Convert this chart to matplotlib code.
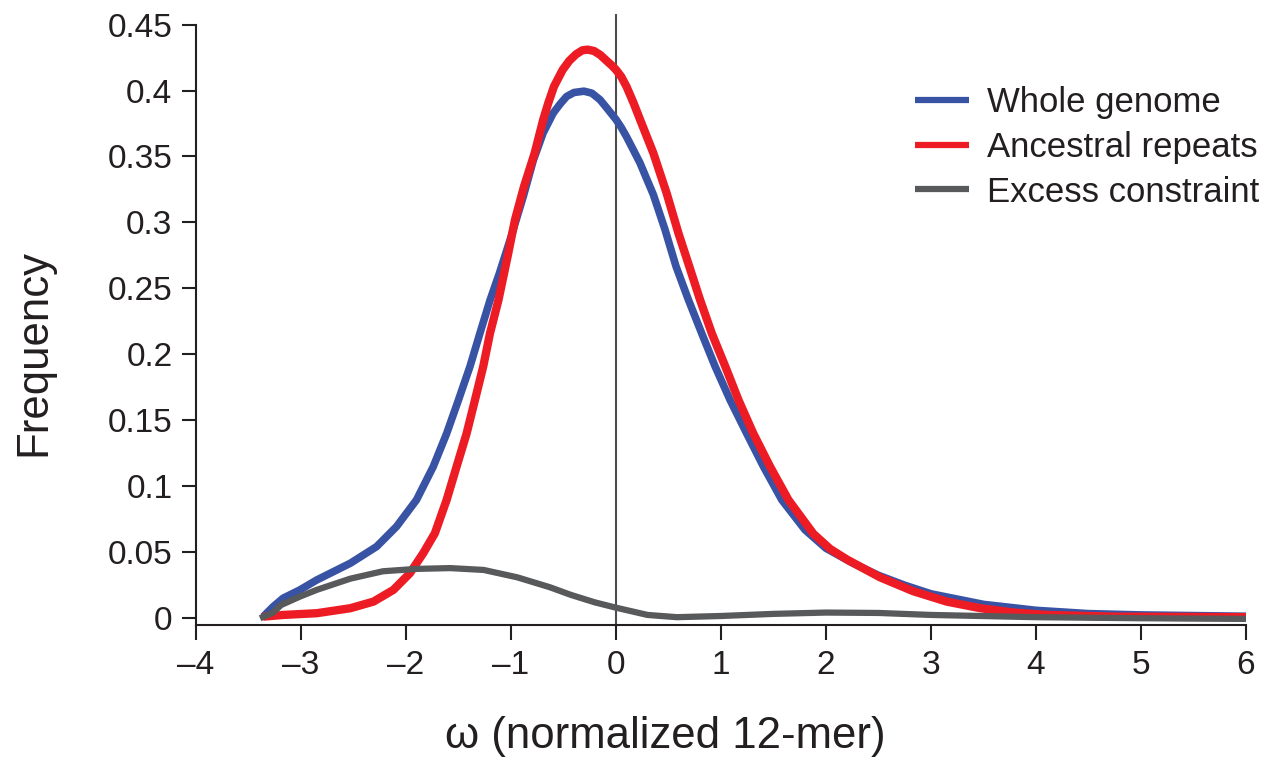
import matplotlib
matplotlib.use("Agg")
import matplotlib.pyplot as plt

plt.rcParams['font.family'] = ['Liberation Sans', 'DejaVu Sans']

# ---- data ----
whole_x = [-3.36, -3.265, -3.17, -3.01, -2.85, -2.53, -2.28, -2.09, -1.90, -1.74, -1.613, -1.50,
           -1.39, -1.296, -1.20, -1.11, -1.00, -0.883, -0.788, -0.693, -0.597, -0.53, -0.47, -0.40,
           -0.305, -0.23, -0.152, -0.08, 0.0, 0.05, 0.10, 0.165, 0.229, 0.356, 0.465, 0.572, 0.689,
           0.816, 0.943, 1.086, 1.245, 1.404, 1.579, 1.80, 2.0, 2.25, 2.5, 2.75, 3.0, 3.5, 4.0,
           4.5, 5.0, 6.0]
whole_y = [0.0012, 0.0088, 0.0152, 0.0215, 0.029, 0.0417, 0.0543, 0.0695, 0.0897, 0.115, 0.140, 0.1655,
           0.191, 0.216, 0.241, 0.2616, 0.289, 0.3197, 0.347, 0.368, 0.383, 0.390, 0.3955, 0.3985,
           0.3995, 0.398, 0.393, 0.386, 0.378, 0.372, 0.365, 0.355, 0.345, 0.321, 0.295, 0.2666, 0.2415,
           0.216, 0.191, 0.1655, 0.140, 0.115, 0.0897, 0.067, 0.053, 0.042, 0.0325, 0.025, 0.0185, 0.0105, 0.006,
           0.0035, 0.0025, 0.0015]

anc_x = [-3.36, -3.17, -2.85, -2.53, -2.31, -2.12, -1.963, -1.836, -1.725, -1.613, -1.518, -1.423,
         -1.343, -1.264, -1.20, -1.12, -1.026, -0.962, -0.877, -0.775, -0.693, -0.645, -0.591,
         -0.508, -0.445, -0.38, -0.32, -0.27, -0.21, -0.15, -0.089, -0.04, 0.0, 0.05, 0.10, 0.165,
         0.229, 0.356, 0.483, 0.594, 0.698, 0.80, 0.912, 1.04, 1.166, 1.308, 1.467, 1.642, 1.88,
         2.04, 2.20, 2.515, 2.83, 3.15, 3.47, 3.79, 4.10, 4.74, 6.0]
anc_y = [0.0012, 0.0025, 0.0038, 0.0076, 0.0126, 0.0215, 0.0341, 0.0493, 0.0644, 0.0897, 0.115, 0.140,
         0.1655, 0.191, 0.216, 0.241, 0.2767, 0.302, 0.327, 0.3525, 0.378, 0.3905, 0.403,
         0.4157, 0.4225, 0.4275, 0.4305, 0.431, 0.430, 0.427, 0.4225, 0.419, 0.4157, 0.4105, 0.403, 0.391,
         0.378, 0.3525, 0.322, 0.292, 0.2666, 0.2415, 0.216, 0.191, 0.1655, 0.140, 0.115, 0.0897, 0.064,
         0.0525, 0.0445, 0.031, 0.0205, 0.0126, 0.0076, 0.0043, 0.0025, 0.0012, 0.0008]

exc_x = [-3.39, -3.27, -3.19, -3.01, -2.85, -2.53, -2.22, -1.90, -1.58, -1.26, -0.94, -0.63, -0.43,
         -0.2, 0.0, 0.3, 0.58, 1.0, 1.5, 2.0, 2.5, 3.0, 4.0, 5.0, 6.0]
exc_y = [0.0, 0.004, 0.010, 0.0164, 0.0215, 0.030, 0.0356, 0.0374, 0.038, 0.0366, 0.031, 0.0235, 0.0177,
         0.012, 0.008, 0.0025, 0.0008, 0.0017, 0.0033, 0.0043, 0.004, 0.0025, 0.0008, 0.0, -0.0005]

series_names = ["Whole genome", "Ancestral repeats", "Excess constraint"]
series_colors = ["#3953A4", "#ED1C24", "#58595B"]

x_ticks = [-4, -3, -2, -1, 0, 1, 2, 3, 4, 5, 6]
x_tick_labels = ["\u20134", "\u20133", "\u20132", "\u20131", "0", "1", "2", "3", "4", "5", "6"]
y_ticks = [0, 0.05, 0.1, 0.15, 0.2, 0.25, 0.3, 0.35, 0.4, 0.45]
y_tick_labels = ["0", "0.05", "0.1", "0.15", "0.2", "0.25", "0.3", "0.35", "0.4", "0.45"]

# ---- figure ----
W, H = 1270, 758
fig = plt.figure(figsize=(W / 100, H / 100), dpi=100)
ax = fig.add_axes([196 / W, (H - 624.7) / H, (1246 - 196) / W, (624.7 - 14) / H])

ax.set_xlim(-4, 6)
ax.set_ylim(-0.0049, 0.458)

axis_col = "#231F20"
ax.axvline(0, color="#4D4D4F", lw=1.5, zorder=1)

ax.plot(whole_x, whole_y, color=series_colors[0], lw=5.5, label=series_names[0],
        solid_capstyle='butt', solid_joinstyle='round', zorder=3)
ax.plot(anc_x, anc_y, color=series_colors[1], lw=6.0, label=series_names[1],
        solid_capstyle='butt', solid_joinstyle='round', zorder=4)
ax.plot(exc_x, exc_y, color=series_colors[2], lw=4.5, label=series_names[2],
        solid_capstyle='butt', solid_joinstyle='round', zorder=5)

for s in ['top', 'right']:
    ax.spines[s].set_visible(False)
ax.spines['left'].set_bounds(-0.0049, 0.45)
ax.spines['left'].set_color(axis_col)
ax.spines['bottom'].set_color(axis_col)
ax.spines['left'].set_linewidth(1.5)
ax.spines['bottom'].set_linewidth(1.5)

ax.set_xticks(x_ticks)
ax.set_xticklabels(x_tick_labels)
ax.set_yticks(y_ticks)
ax.set_yticklabels(y_tick_labels)
ax.tick_params(axis='both', direction='out', colors=axis_col, width=1.5, labelsize=24,
               labelcolor=axis_col)
ax.tick_params(axis='x', length=11, pad=7)
ax.tick_params(axis='y', length=10, pad=7)

ax.set_xlabel("\u03c9 (normalized 12-mer)", fontsize=31.5, color=axis_col)
ax.set_ylabel("Frequency", fontsize=31.5, color=axis_col)
ax.xaxis.set_label_coords((665 - 196) / 1050, -(716 - 624.7) / 610.7)
ax.yaxis.set_label_coords((54 - 196) / 1050, (624.7 - 352) / 610.7)

leg = ax.legend(loc='upper left', bbox_to_anchor=(915 / W, 1 - 86 / H), bbox_transform=fig.transFigure,
                frameon=False, fontsize=25, handlelength=1.55, handletextpad=0.52,
                labelspacing=0.34, borderpad=0, borderaxespad=0)
for t in leg.get_texts():
    t.set_color(axis_col)
for l in leg.get_lines():
    l.set_linewidth(4.5)

fig.savefig("out.png", dpi=100)
